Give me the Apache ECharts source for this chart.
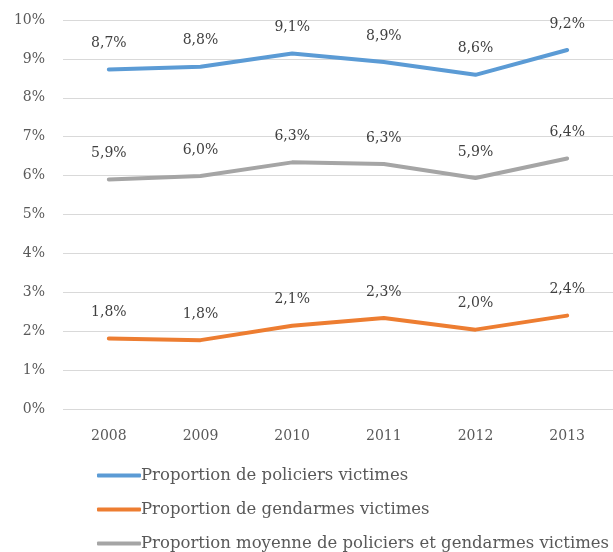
<!DOCTYPE html>
<html><head><meta charset="utf-8">
<script src="https://cdn.jsdelivr.net/npm/echarts@6/dist/echarts.min.js"></script>
<style>html,body{margin:0;padding:0;background:#fff}#c{width:613px;height:552px}</style>
</head><body><div id="c"></div>
<script>
const categories = ['2008','2009','2010','2011','2012','2013'];
const policiers = [8.73, 8.80, 9.14, 8.92, 8.59, 9.23];
const gendarmes = [1.81, 1.77, 2.14, 2.34, 2.04, 2.40];
const moyenne = [5.90, 5.99, 6.34, 6.30, 5.94, 6.44];
const yTicks = [0,1,2,3,4,5,6,7,8,9,10];
const names = ['Proportion de policiers victimes','Proportion de gendarmes victimes','Proportion moyenne de policiers et gendarmes victimes'];
const colors = ['#5B9BD5','#ED7D31','#A5A5A5'];
const FONT = 'DejaVu Serif';
const chart = echarts.init(document.getElementById('c'));
function mk(name, data, color){
  return {name, type:'line', data, symbol:'circle', symbolSize:0, showSymbol:true,
    lineStyle:{width:4, color, cap:'round', join:'round'}, itemStyle:{color},
    label:{show:true, position:'top', distance:19, color:'#404040', fontFamily:FONT, fontSize:14,
      formatter:p=>Number(p.value).toFixed(1).replace('.',',')+'%'},
    labelLayout:{hideOverlap:false}};
}
const legendTops = [462, 496, 530];
chart.setOption({
  animation:false,
  grid:{left:63, top:20, width:560, height:389, containLabel:false},
  xAxis:{type:'category', data:categories, boundaryGap:true,
    axisLine:{show:false}, axisTick:{show:false},
    axisLabel:{color:'#595959', fontFamily:FONT, fontSize:14, margin:20}},
  yAxis:{type:'value', min:yTicks[0], max:yTicks[yTicks.length-1], interval:1,
    axisLine:{show:false}, axisTick:{show:false},
    splitLine:{lineStyle:{color:'#D9D9D9', width:1}},
    axisLabel:{color:'#595959', fontFamily:FONT, fontSize:14, margin:18, formatter:v=>v+'%'}},
  legend: names.map((n,i)=>({orient:'vertical', left:92, top:legendTops[i], itemWidth:44, itemHeight:4, icon:'roundRect',
    data:[n], textStyle:{color:'#595959', fontFamily:FONT, fontSize:16.5, padding:[0,0,0,-5]}})),
  series:[mk(names[0],policiers,colors[0]), mk(names[1],gendarmes,colors[1]), mk(names[2],moyenne,colors[2])]
});
</script></body></html>
